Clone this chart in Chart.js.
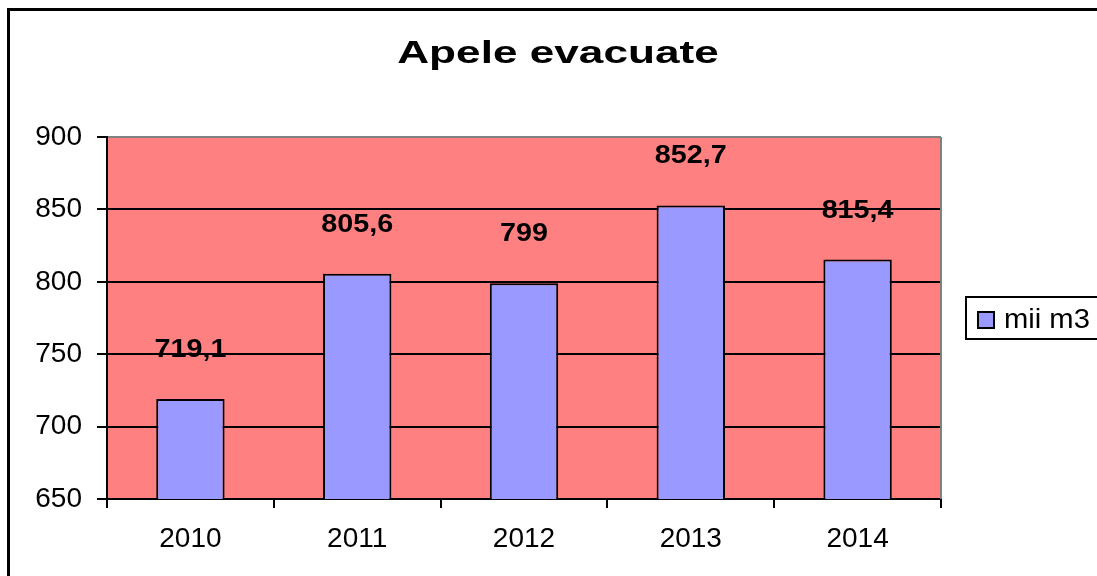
<!DOCTYPE html>
<html>
<head>
<meta charset="utf-8">
<script src="https://cdn.jsdelivr.net/npm/chart.js@4.4.1/dist/chart.umd.min.js"></script>
<style>
  html, body { margin: 0; padding: 0; background: #fff; overflow: hidden; }
  canvas { display: block; }
</style>
</head>
<body>
<canvas id="chart" width="1097" height="576"></canvas>
<script>
// Daten
const years = ['2010', '2011', '2012', '2013', '2014'];
const values = [719.1, 805.6, 799, 852.7, 815.4];
const seriesName = 'mii m3';
const chartTitle = 'Apele evacuate';
const yMin = 650;
const yMax = 900;
const yStep = 50;

Chart.defaults.font.family = "'Liberation Sans', Arial, sans-serif";
Chart.defaults.color = '#000';

// Text horizontal gestreckt zeichnen (wie im Original)
function drawStretched(ctx, text, x, y, font, sx, align) {
    ctx.save();
    ctx.font = font;
    ctx.fillStyle = '#000';
    ctx.textAlign = align || 'center';
    ctx.textBaseline = 'alphabetic';
    ctx.translate(x, y);
    ctx.scale(sx, 1);
    ctx.fillText(text, 0, 0);
    ctx.restore();
}

const excelLook = {
    id: 'excelLook',
    beforeDraw(chart) {
        const { ctx, chartArea: a } = chart;
        ctx.save();
        ctx.fillStyle = '#fff';
        ctx.fillRect(0, 0, chart.width, chart.height);
        // Rahmen um das Diagramm
        ctx.strokeStyle = '#000';
        ctx.lineWidth = 3;
        ctx.strokeRect(8.5, 9.5, 1200, 700);
        // Zeichnungsfläche
        ctx.fillStyle = '#FF8080';
        ctx.fillRect(a.left, a.top, a.right - a.left, a.bottom - a.top);
        ctx.restore();
    },
    afterDatasetsDraw(chart) {
        const { ctx, chartArea: a } = chart;
        ctx.save();
        ctx.strokeStyle = '#808080';
        ctx.lineWidth = 2;
        ctx.beginPath();
        ctx.moveTo(a.right, a.top);
        ctx.lineTo(a.right, a.bottom);
        ctx.stroke();
        ctx.restore();

        // Datenbeschriftungen
        const meta = chart.getDatasetMeta(0);
        meta.data.forEach((bar, i) => {
            const label = String(values[i]).replace('.', ',');
            drawStretched(ctx, label, bar.x, bar.y - 42, 'bold 25px "Liberation Sans", Arial, sans-serif', 1.15);
        });
    },
    afterDraw(chart) {
        const { ctx } = chart;
        // Titel
        drawStretched(ctx, chartTitle, 558, 63, 'bold 32px "Liberation Sans", Arial, sans-serif', 1.38);

        // Legende
        ctx.save();
        ctx.strokeStyle = '#000';
        ctx.lineWidth = 2;
        ctx.strokeRect(966, 297, 200, 42);
        ctx.fillStyle = '#9999FF';
        ctx.fillRect(978, 312, 16, 16);
        ctx.strokeRect(978, 312, 16, 16);
        ctx.restore();
        drawStretched(ctx, seriesName, 1004, 328, '27px "Liberation Sans", Arial, sans-serif', 1.08, 'left');
    }
};

new Chart(document.getElementById('chart'), {
    type: 'bar',
    data: {
        labels: years,
        datasets: [{
            label: seriesName,
            data: values,
            backgroundColor: '#9999FF',
            borderColor: '#000',
            borderWidth: 2,
            borderSkipped: false,
            categoryPercentage: 1,
            barPercentage: 0.41
        }]
    },
    options: {
        responsive: false,
        animation: false,
        layout: { padding: { left: 0, top: 137, right: 156, bottom: 0 } },
        plugins: {
            legend: { display: false },
            title: { display: false },
            tooltip: { enabled: false }
        },
        scales: {
            x: {
                grid: { offset: true, drawOnChartArea: false, drawTicks: true, tickLength: 9, color: '#000', lineWidth: 2 },
                border: { color: '#000', width: 2 },
                ticks: { color: '#000', font: { size: 28 }, padding: 14, maxRotation: 0 },
                afterFit: (s) => { s.height = 77; }
            },
            y: {
                min: yMin,
                max: yMax,
                ticks: { stepSize: yStep, color: '#000', font: { size: 28 }, padding: 15 },
                grid: {
                    color: (c) => (c.tick && c.tick.value === yMax ? '#808080' : '#000'),
                    tickColor: '#000',
                    lineWidth: 2,
                    tickLength: 10
                },
                border: { color: '#000', width: 2 },
                afterFit: (s) => { s.width = 107; }
            }
        }
    },
    plugins: [excelLook]
});
</script>
</body>
</html>
